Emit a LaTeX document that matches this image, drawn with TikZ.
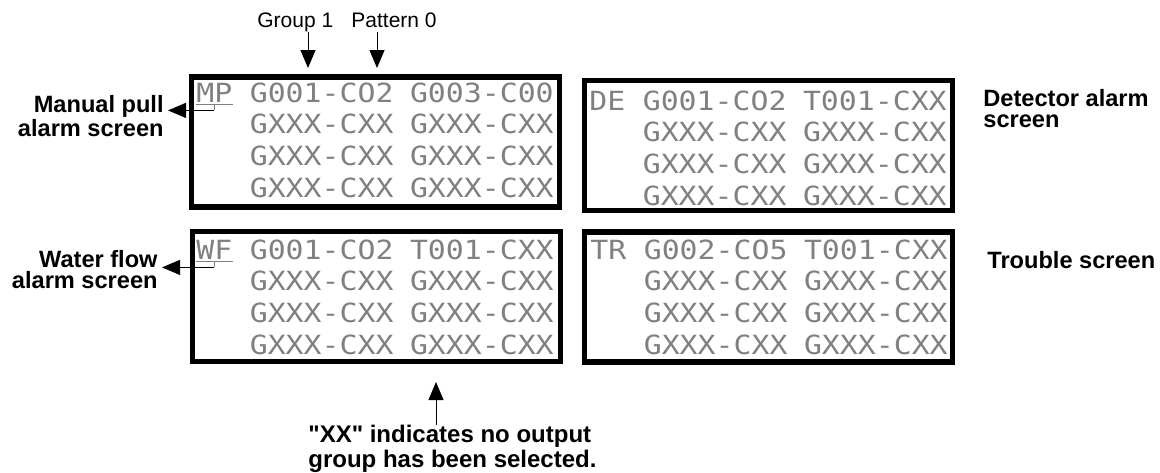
\documentclass[tikz,border=0pt]{standalone}
\usepackage{fontspec}
\setmainfont{Liberation Sans}
\newfontfamily\lcdfont[FakeStretch=1.13]{DejaVu Sans Mono}
\usetikzlibrary{arrows.meta,calc}
\definecolor{lcdgray}{gray}{0.5}

\begin{document}
\begin{tikzpicture}[x=0.5pt,y=-0.5pt,
  screen/.style={draw, line width=2.6pt, minimum width=184pt, minimum height=65pt, inner sep=0pt},
  lcd/.style={anchor=base west, inner sep=0pt, text=lcdgray, font=\lcdfont\fontsize{13.2}{13}\selectfont},
  scrlabel/.style={inner xsep=2pt, inner ysep=0pt, font=\bfseries\fontsize{11.8}{10.3}\selectfont},
  toplabel/.style={inner sep=0pt, anchor=base west, font=\fontsize{10.5}{12}\selectfont},
  pointer/.style={line width=0.5pt, -{Triangle[width=7.5pt,length=9pt]}}]
  \useasboundingbox (0,0) rectangle (1160,472);

  \node[screen] (mp) at (375.5,142) {};
  \node[screen] (de) at (768.5,145.5) {};
  \node[screen] (wf) at (376.5,296.5) {};
  \node[screen] (tr) at (768.5,297) {};

  \foreach \bx/\tx/\ty/\code/\ga/\gb in {mp/196/102/MP/G001-CO2/G003-C00,
      de/589/110/DE/G001-CO2/T001-CXX, wf/196/259/WF/G001-CO2/T001-CXX,
      tr/590/259/TR/G002-CO5/T001-CXX}{
    \begin{scope}
      \clip ([shift={(1.3pt,-1.3pt)}]\bx.north west) rectangle ([shift={(-1.3pt,1.3pt)}]\bx.south east);
      \node[lcd] (\bx code) at (\tx,\ty) {\code};
      \node[lcd] (\bx a1) at (\tx+53.4,\ty) {\ga};
      \node[lcd] (\bx b1) at (\tx+213.6,\ty) {\gb};
      \foreach \r in {2,3,4}{
        \node[lcd] (\bx a\r) at (\tx+53.4,\ty+31.8*\r-31.8) {GXXX-CXX};
        \node[lcd] (\bx b\r) at (\tx+213.6,\ty+31.8*\r-31.8) {GXXX-CXX};
      }
    \end{scope}
  }

  \node[toplabel] (grplbl) at (257,27) {Group 1};
  \node[toplabel] (patlbl) at (351,27) {Pattern 0};
  \coordinate (grptip) at (308,68);
  \coordinate (pattip) at (377,68);
  \draw[pointer] (grptip |- grplbl.south) -- (grptip);
  \draw[pointer] (pattip |- grplbl.south) -- (pattip);

  \node[scrlabel, align=right, anchor=north east] (mplbl) at (168,95) {Manual pull\\alarm screen};
  \node[scrlabel, align=left, anchor=north west] (delbl) at (979,89) {Detector alarm\\screen};
  \node[scrlabel, align=right, anchor=north east] (wflbl) at (162,250) {Water flow\\alarm screen};
  \node[scrlabel, anchor=north west] (trlbl) at (983,251) {Trouble screen};

  \draw[lcdgray, line width=0.5pt] ([yshift=-1pt]mpcode.south west) -- ([yshift=-1pt]mpcode.south east)
    ([yshift=-1pt]mpcode.south) -- ++(0,6) coordinate (mpbend);
  \draw[pointer] (mpbend) -- (mpbend -| mplbl.east);
  \draw[lcdgray, line width=0.5pt] ([yshift=-1pt]wfcode.south west) -- ([yshift=-1pt]wfcode.south east)
    ([yshift=-1pt]wfcode.south) -- ++(0,6) coordinate (wfbend);
  \draw[pointer] (wfbend) -- (wfbend -| wflbl.east);

  \node[scrlabel, align=left, anchor=north west, font=\bfseries\fontsize{12}{10}\selectfont] (note) at (304,425)
    {\textquotedbl XX\textquotedbl{} indicates no output\\group has been selected.};
  \coordinate (xxtip) at (436,382);
  \draw[pointer] (xxtip |- note.north) -- (xxtip);
\end{tikzpicture}
\end{document}
